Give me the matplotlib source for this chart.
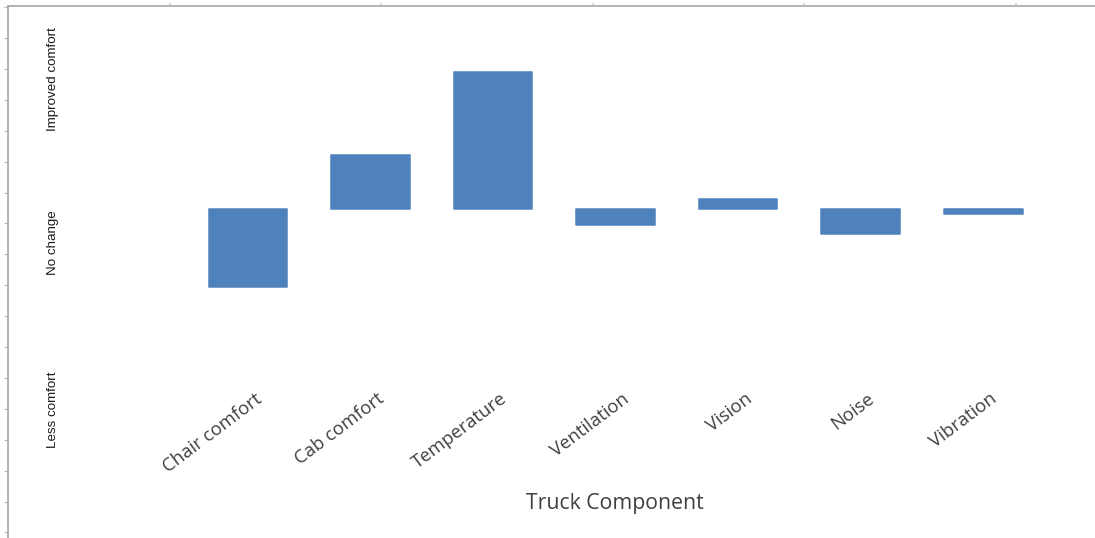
import numpy as np
import matplotlib
matplotlib.use("Agg")
import matplotlib.pyplot as plt
import matplotlib.transforms as mtransforms

# Average change in perceived comfort per truck component
components = ["Chair comfort", "Cab comfort", "Temperature", "Ventilation",
              "Vision", "Noise", "Vibration"]
comfort_change = [-2.53, 1.76, 4.44, -0.51, 0.33, -0.80, -0.15]
scale_labels = ["Improved comfort", "No change", "Less comfort"]
x_title = "Truck Component"

W, H, DPI = 1095, 538, 100
BAR = "#4F81BD"
SPINE = "#a6a6a6"

fig = plt.figure(figsize=(W / DPI, H / DPI), dpi=DPI)
fig.patch.set_facecolor("white")

left_px, top_px = 8.3, 6.0
ax = fig.add_axes([left_px / W, 0.0, 1 - left_px / W, (H - top_px) / H])

x = np.arange(len(components))
bars = ax.bar(x, comfort_change, width=0.64, color=BAR, edgecolor=BAR,
              linewidth=1.1, zorder=3)
for b in bars:
    b.set_joinstyle("round")

ax.set_xlim(-1.953, 6.911)
ax.set_ylim(-10.65, 6.57)

# spines: only left and top are shown
for side in ("right", "bottom"):
    ax.spines[side].set_visible(False)
for side in ("left", "top"):
    ax.spines[side].set_color(SPINE)
    ax.spines[side].set_linewidth(1.2)

ax.set_yticks(np.arange(6.53, -10.6, -1.0))
ax.tick_params(axis="y", direction="out", length=3.2, width=0.8,
               color="#b5b5b5", labelleft=False)
ax.xaxis.set_ticks_position("top")
ax.set_xticks(np.arange(-0.634, 6.9, 1.725))
ax.tick_params(axis="x", direction="out", length=2.5, width=1.6,
               color="#dcdcdc", labeltop=False, labelbottom=False)

# scale descriptions on the left
for lab, ypx in zip(scale_labels, [79, 243, 410]):
    fig.text(53 / W, 1 - ypx / H, lab, rotation=90, ha="center", va="center",
             fontsize=9.6, family="Liberation Sans", color="#1a1a1a")

# rotated category names
trans = mtransforms.blended_transform_factory(ax.transData, fig.transFigure)
trans = trans + mtransforms.ScaledTranslation(12 / DPI, 0, fig.dpi_scale_trans)
for xi, name in zip(x, components):
    ax.text(xi, 1 - 397 / H, name, transform=trans, rotation=37,
            rotation_mode="anchor", ha="right", va="center",
            fontsize=13.3, family="Open Sans", color="#404040")

fig.text(615 / W, 1 - 503 / H, x_title, ha="center", va="center",
         fontsize=15.3, family="Open Sans", color="#404040")

fig.savefig("out.png", dpi=DPI, facecolor="white")
